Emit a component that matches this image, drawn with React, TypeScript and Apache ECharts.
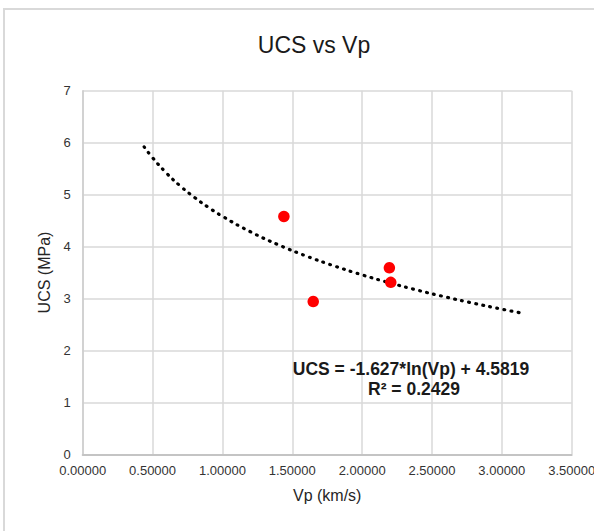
import React, { useEffect, useRef } from "react";
import * as echarts from "echarts";

const chartTitle = "UCS vs Vp";
const xAxisName = "Vp (km/s)";
const yAxisName = "UCS (MPa)";
const equationText = "UCS = -1.627*ln(Vp) + 4.5819";
const r2Text = "R² = 0.2429";

// measured samples (Vp km/s, UCS MPa)
const vpValues = [1.44, 1.65, 2.195, 2.205];
const ucsValues = [4.58, 2.94, 3.59, 3.31];

// logarithmic trendline
const trendVp = [0.44, 0.5, 0.6, 0.7, 0.8, 0.9, 1.0, 1.2, 1.4, 1.6, 1.8, 2.0, 2.2, 2.4, 2.6, 2.8, 3.0, 3.16];
const trendUcs = [5.918, 5.71, 5.413, 5.162, 4.945, 4.753, 4.582, 4.285, 4.034, 3.817, 3.626, 3.454, 3.299, 3.157, 3.027, 2.907, 2.794, 2.71];

const xMin = 0;
const xMax = 3.5;
const xStep = 0.5;
const yMin = 0;
const yMax = 7;
const yStep = 1;

const FONT = "'Liberation Sans', Arial, sans-serif";

export default function App() {
  const ref = useRef<HTMLDivElement>(null);

  useEffect(() => {
    document.body.style.margin = "0";
    if (!ref.current) return;
    const chart = echarts.init(ref.current, null, { renderer: "svg" });
    chart.setOption({
      animation: false,
      backgroundColor: "#ffffff",
      textStyle: { fontFamily: FONT },
      grid: {
        left: 82.7,
        right: 22.3,
        top: 90.7,
        bottom: 76.7,
        containLabel: false,
        outerBoundsMode: "none",
      },
      graphic: [
        {
          type: "rect",
          z: -10,
          silent: true,
          shape: { x: 4, y: 9, width: 700, height: 700 },
          style: { fill: "none", stroke: "#d9d9d9", lineWidth: 2 },
        },
        {
          type: "text",
          x: 314,
          y: 44.5,
          silent: true,
          style: {
            text: chartTitle,
            font: `23px ${FONT}`,
            fill: "#1a1a1a",
            textAlign: "center",
            textVerticalAlign: "middle",
          },
        },
        {
          type: "text",
          x: 411,
          y: 369,
          z: 20,
          silent: true,
          style: {
            text: equationText,
            font: `bold 17.5px ${FONT}`,
            fill: "#1a1a1a",
            textAlign: "center",
            textVerticalAlign: "middle",
          },
        },
        {
          type: "text",
          x: 414,
          y: 389,
          z: 20,
          silent: true,
          style: {
            text: r2Text,
            font: `bold 17.5px ${FONT}`,
            fill: "#1a1a1a",
            textAlign: "center",
            textVerticalAlign: "middle",
          },
        },
      ],
      xAxis: {
        type: "value",
        min: xMin,
        max: xMax,
        interval: xStep,
        name: xAxisName,
        nameLocation: "middle",
        nameGap: 33,
        nameTextStyle: { fontSize: 16, color: "#262626", fontFamily: FONT },
        axisLine: { show: true, lineStyle: { color: "#c4c4c4", width: 2 } },
        axisTick: { show: false },
        axisLabel: {
          fontSize: 13,
          color: "#333333",
          margin: 10,
          fontFamily: FONT,
          formatter: (v: number) => v.toFixed(5),
        },
        splitLine: { show: true, lineStyle: { color: "#d9d9d9", width: 1.5 } },
      },
      yAxis: {
        type: "value",
        min: yMin,
        max: yMax,
        interval: yStep,
        name: yAxisName,
        nameLocation: "middle",
        nameGap: 28,
        nameRotate: 90,
        nameTextStyle: { fontSize: 16, color: "#262626", fontFamily: FONT },
        axisLine: { show: true, lineStyle: { color: "#cccccc", width: 1.5 } },
        axisTick: { show: false },
        axisLabel: { fontSize: 13, color: "#333333", margin: 12, fontFamily: FONT },
        splitLine: { show: true, lineStyle: { color: "#d9d9d9", width: 1.5 } },
      },
      series: [
        {
          type: "line",
          data: trendVp.map((x, i) => [x, trendUcs[i]]),
          smooth: true,
          showSymbol: false,
          symbol: "none",
          silent: true,
          z: 3,
          lineStyle: { color: "#000000", width: 3.2, type: [0.8, 6.4], cap: "round" },
        },
        {
          type: "scatter",
          data: vpValues.map((x, i) => [x, ucsValues[i]]),
          symbol: "circle",
          symbolSize: 11.5,
          z: 5,
          itemStyle: { color: "#ff0000", opacity: 1 },
        },
      ],
    });
    return () => chart.dispose();
  }, []);

  return <div ref={ref} style={{ width: 594, height: 531 }} />;
}
